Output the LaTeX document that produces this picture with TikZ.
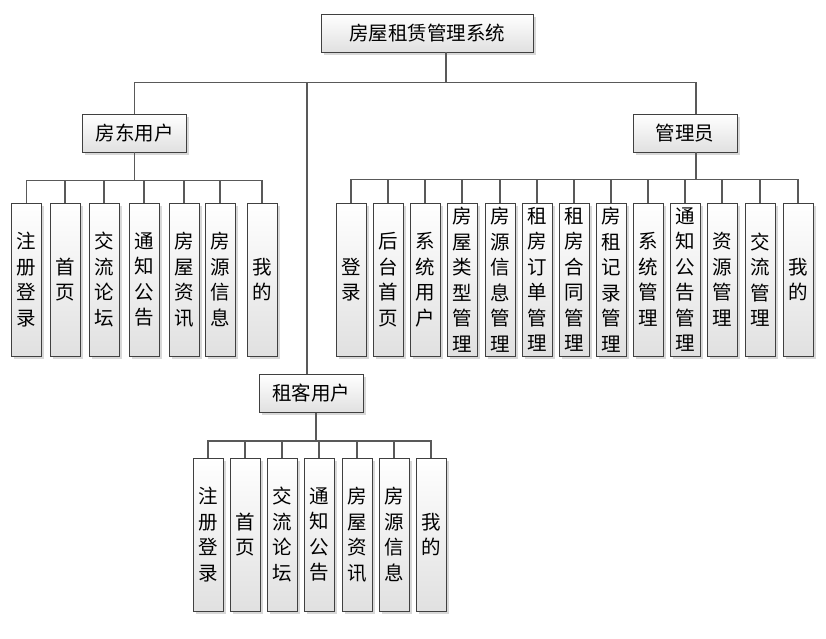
\documentclass[tikz,border=0pt]{standalone}
\usepackage{fontspec}
\setmainfont{Noto Sans CJK SC}
\usetikzlibrary{shadows}

\tikzset{
  box/.style={draw=black!75, line width=0.8pt, top color=white, bottom color=black!12,
    drop shadow={shadow xshift=2.5pt, shadow yshift=-2.5pt, fill=black!30, opacity=0.5},
    inner sep=0pt, font=\fontsize{19.5}{25.5}\selectfont},
  parentbox/.style={box, minimum width=104pt, minimum height=38pt},
  leafbox/.style={box, minimum width=30pt, minimum height=153pt, align=center},
  link/.style={draw=black!65, line width=1.2pt}
}

\begin{document}
\begin{tikzpicture}[x=1pt,y=-1pt]
  \useasboundingbox (0,0) rectangle (826,638);

  \node[parentbox, minimum width=212pt] (root) at (427,33) {房屋租赁管理系统};
  \node[parentbox] (landlord) at (134.5,133) {房东用户};
  \node[parentbox] (admin) at (685,133) {管理员};
  \node[parentbox] (tenant) at (311,393.5) {租客用户};

  % landlord menu
  \foreach \x/\t [count=\n] in {26.5/{注\\册\\登\\录}, 65/{首\\页}, 104/{交\\流\\论\\坛},
      144/{通\\知\\公\\告}, 184/{房\\屋\\资\\讯}, 220/{房\\源\\信\\息}, 262/{我\\的}}
    \node[leafbox] (L\n) at (\x,279.5) {\t};

  % admin menu
  \foreach \x/\t [count=\n] in {351/{登\\录}, 388/{后\\台\\首\\页}, 425/{系\\统\\用\\户},
      462/{房\\屋\\类\\型\\管\\理}, 500/{房\\源\\信\\息\\管\\理}, 537/{租\\房\\订\\单\\管\\理},
      574/{租\\房\\合\\同\\管\\理}, 611/{房\\租\\记\\录\\管\\理}, 648/{系\\统\\管\\理},
      685/{通\\知\\公\\告\\管\\理}, 722/{资\\源\\管\\理}, 760/{交\\流\\管\\理}, 798/{我\\的}}
    \node[leafbox] (A\n) at (\x,279.5) {\t};

  % tenant menu
  \foreach \x/\t [count=\n] in {208/{注\\册\\登\\录}, 245/{首\\页}, 282/{交\\流\\论\\坛},
      319/{通\\知\\公\\告}, 357/{房\\屋\\资\\讯}, 394/{房\\源\\信\\息}, 431/{我\\的}}
    \node[leafbox] (T\n) at (\x,534.5) {\t};

  \draw[link] ([xshift=19pt]root.south) -- ++(0,31) coordinate (hub);
  \draw[link] (landlord.north) -- ++(0,-31) -| ([xshift=11pt]admin.north);
  \draw[link] ([xshift=-4pt]tenant.north) -- ([xshift=-4pt]tenant.north |- hub);

  \foreach \n in {1,...,7}
    \draw[link] (landlord.south) -- ++(0,28) -| (L\n.north);
  \foreach \n in {1,...,13}
    \draw[link] ([xshift=11pt]admin.south) -- ++(0,27) -| (A\n.north);
  \foreach \n in {1,...,7}
    \draw[link] ([xshift=5pt]tenant.south) -- ++(0,28) -| (T\n.north);
\end{tikzpicture}
\end{document}
